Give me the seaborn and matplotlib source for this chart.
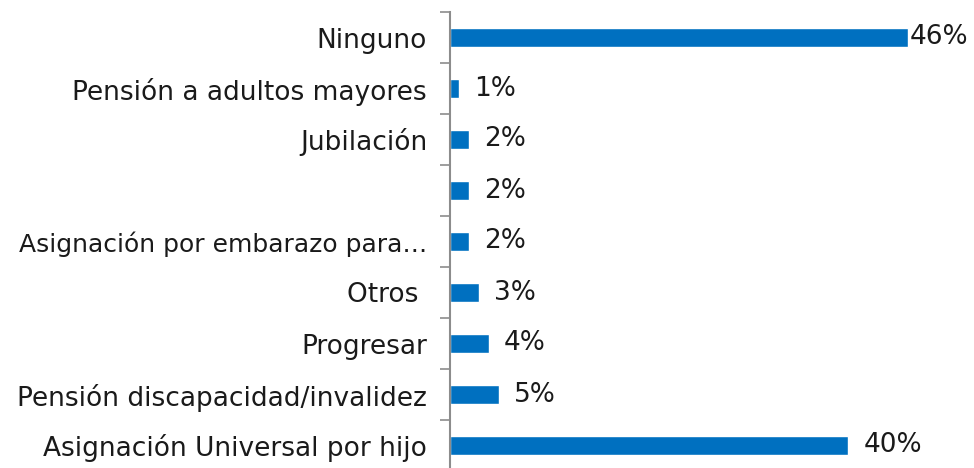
import numpy as np
import pandas as pd
import matplotlib
matplotlib.use("Agg")
import matplotlib.pyplot as plt
import seaborn as sns

categories = ["Ninguno", "Pensión a adultos mayores", "Jubilación", "",
              "Asignación por embarazo para…", "Otros ", "Progresar",
              "Pensión discapacidad/invalidez", "Asignación Universal por hijo"]
values = [45.9, 0.9, 1.9, 1.9, 1.9, 2.9, 3.9, 4.9, 39.9]
labels = ["46%", "1%", "2%", "2%", "2%", "3%", "4%", "5%", "40%"]

df = pd.DataFrame({"cat": [f"c{i}" for i in range(len(categories))], "val": values})

sns.set_style("white")
plt.rcParams["font.family"] = ["DejaVu Sans"]

fig = plt.figure(figsize=(9.74, 4.68), dpi=100)
ax = fig.add_axes([450 / 974, (468 - 471) / 468, 524 / 974, 459 / 468])

sns.barplot(data=df, x="val", y="cat", orient="h", color="#0070C0",
            width=0.39, saturation=1, ax=ax)

ax.set_xlim(0, 52.5)
ax.set_ylim(len(categories) - 0.5, -0.5)
ax.set_xlabel("")
ax.set_ylabel("")
ax.set_xticks([])
ax.set_yticks(range(len(categories)))
ax.set_yticklabels(categories, fontsize=19, color="#1a1a1a")
# the long truncated label needs a touch less room to stay inside the figure
ax.get_yticklabels()[4].set_fontsize(18)
ax.tick_params(axis="y", which="major", left=True, length=0, pad=16.5)
ax.set_yticks(np.arange(-0.5, len(categories), 1), minor=True)
ax.tick_params(axis="y", which="minor", left=True, length=7, width=1.2,
               color="#8c8c8c", direction="out")

for s in ["top", "right", "bottom"]:
    ax.spines[s].set_visible(False)
ax.spines["left"].set_color("#8c8c8c")
ax.spines["left"].set_linewidth(1.5)

for i, (v, lab) in enumerate(zip(values, labels)):
    off = 0.15 if v > 45 else 1.5
    ax.text(v + off, i, lab, va="center", ha="left", fontsize=19, color="#1a1a1a")

fig.savefig("out.png", dpi=100)
